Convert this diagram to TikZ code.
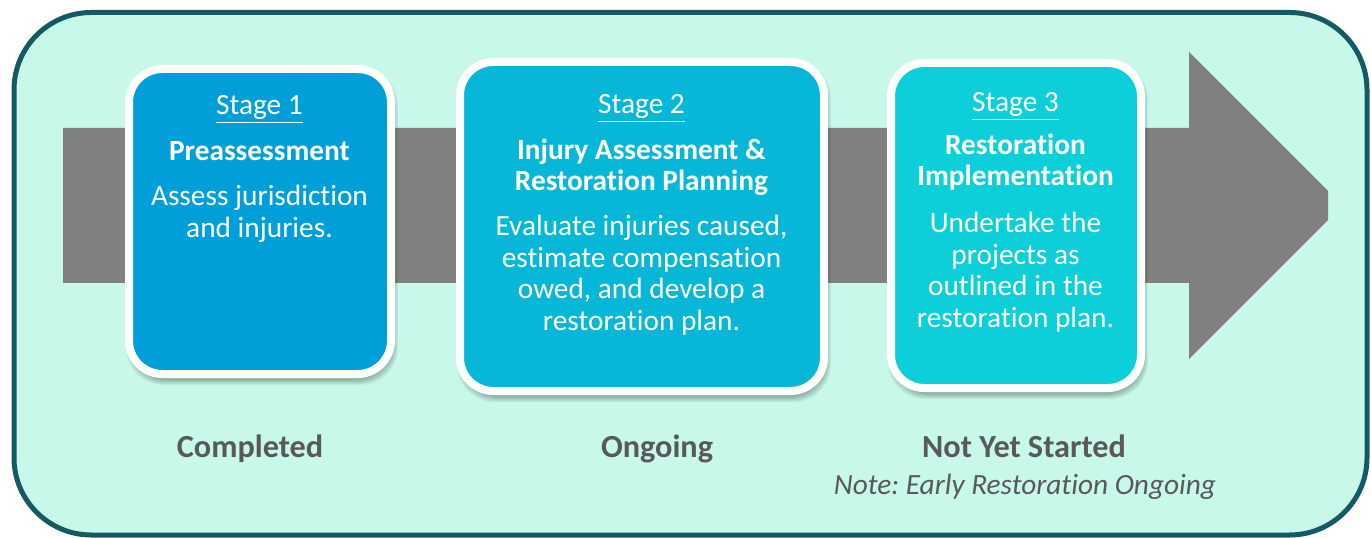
\documentclass[tikz,border=0pt]{standalone}
\usepackage{fontspec}
\setmainfont{Carlito}[Ligatures=NoCommon]
\usetikzlibrary{fit}
\frenchspacing

\definecolor{panelfill}{HTML}{C8F8EA}
\definecolor{panelrim}{HTML}{155A62}
\definecolor{barfill}{HTML}{808080}
\definecolor{stageone}{HTML}{009FDA}
\definecolor{stagetwo}{HTML}{07B7D8}
\definecolor{stagethree}{HTML}{0CCFDA}
\definecolor{statusgray}{HTML}{595959}

% centred lines whose reference point is the first baseline
\newcommand{\stacklines}[1]{\begin{tabular}[t]{@{}c@{}}#1\end{tabular}}

\tikzset{
  panel/.style={draw=panelrim, line width=3.75pt, fill=panelfill,
    rounded corners=58pt, inner sep=0pt},
  stagebox/.style={draw=white, line width=6pt, rounded corners=25pt, inner sep=0pt},
  stagelbl/.style={text=white, anchor=base, inner sep=0pt,
    font=\fontsize{22}{24}\selectfont},
  titlelbl/.style={text=white, anchor=base, inner sep=0pt,
    font=\bfseries\fontsize{22}{22.9}\selectfont},
  desclbl/.style={text=white, anchor=base, inner sep=0pt,
    font=\fontsize{22}{23.7}\selectfont},
  statuslbl/.style={text=statusgray, anchor=base, inner sep=0pt,
    font=\bfseries\fontsize{24.2}{26}\selectfont},
  notelbl/.style={text=statusgray, anchor=base, inner sep=0pt,
    font=\itshape\fontsize{22}{24}\selectfont},
}

\begin{document}
\begin{tikzpicture}[x=0.75pt, y=-0.75pt]
\useasboundingbox (0,0) rectangle (1371,538);

% background panel
\node[panel, fit={(14,12.5) (1367,535)}] (panel) {};

% wide grey process arrow
\fill[barfill] (63,128) -- (1189,128) -- (1189,52) -- (1328,191)
  -- (1328,220) -- (1189,359) -- (1189,283) -- (63,283) -- cycle;

% soft shadows under the stage cards
\foreach \xa/\ya/\xb/\yb in {129/69/391/374, 460/62/824/391, 891/63/1141/388} {
  \foreach \k in {0,...,5} {
    \fill[black, opacity=0.05, rounded corners=28pt]
      (\xa-\k+2, \ya-\k+4) rectangle (\xb+\k+2, \yb+\k+6);
  }
}

% stage cards
\node[stagebox, fill=stageone,   fit={(129,69) (391,374)}] (card1) {};
\node[stagebox, fill=stagetwo,   fit={(460,62) (824,391)}] (card2) {};
\node[stagebox, fill=stagethree, fit={(891,63) (1141,388)}] (card3) {};

% stage 1
\node[stagelbl] (st1) at (259.5,115) {\underline{Stage 1}};
\node[titlelbl] (ti1) at (259.5,160.5) {Preassessment};
\node[desclbl]  (de1) at (259.5,205.5) {\stacklines{Assess jurisdiction\\and injuries.}};

% stage 2
\node[stagelbl] (st2) at (641.5,114) {\underline{Stage 2}};
\node[titlelbl] (ti2) at (641.5,159.5) {\stacklines{Injury Assessment \&\\Restoration Planning}};
\node[desclbl]  (de2) at (641.5,235.5) {\stacklines{Evaluate injuries caused,\\estimate compensation\\owed, and develop a\\restoration plan.}};

% stage 3
\node[stagelbl] (st3) at (1015.5,112) {\underline{Stage 3}};
\node[titlelbl] (ti3) at (1015.5,154.5) {\stacklines{Restoration\\Implementation}};
\node[desclbl]  (de3) at (1015.5,232.5) {\stacklines{Undertake the\\projects as\\outlined in the\\restoration plan.}};

% status line
\node[statuslbl] (s1) at (250,457) {Completed};
\node[statuslbl] (s2) at (657,457) {Ongoing};
\node[statuslbl] (s3) at (1024,457) {Not Yet Started};
\node[notelbl]   (n3) at (1025,494) {Note: Early Restoration Ongoing};
\end{tikzpicture}
\end{document}
